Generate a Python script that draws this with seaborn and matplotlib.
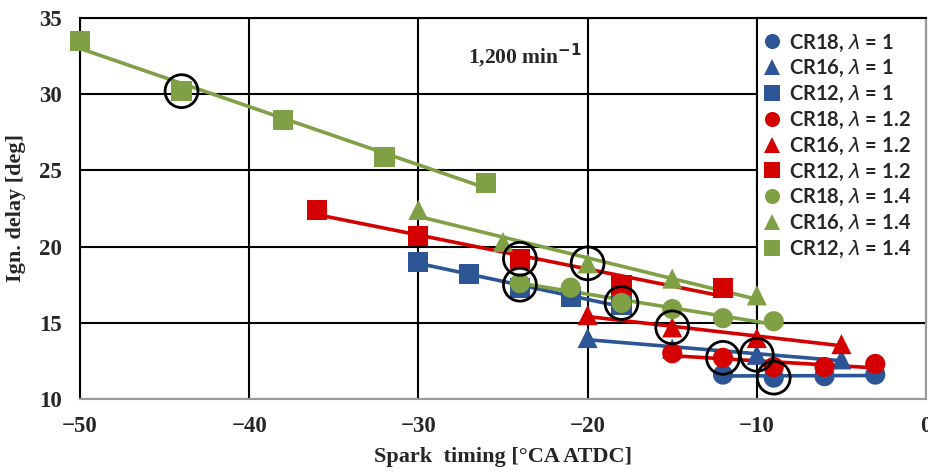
import numpy as np
import pandas as pd
import seaborn as sns
import matplotlib.pyplot as plt
from matplotlib.patches import Rectangle

# spark timing [deg CA ATDC] / ignition delay [deg], per series
# lambda = 1
cr18_l10_x = [-12, -9, -6, -3]
cr18_l10_y = [11.6, 11.4, 11.5, 11.6]
cr16_l10_x = [-20, -15, -10, -5]
cr16_l10_y = [14.0, 13.3, 12.9, 12.6]
cr12_l10_x = [-30, -27, -24, -21, -18]
cr12_l10_y = [19.0, 18.2, 17.3, 16.7, 16.2]
# lambda = 1.2
cr18_l12_x = [-15, -12, -9, -6, -3]
cr18_l12_y = [13.0, 12.7, 12.1, 12.1, 12.3]
cr16_l12_x = [-20, -15, -10, -5]
cr16_l12_y = [15.5, 14.7, 14.0, 13.6]
cr12_l12_x = [-36, -30, -24, -18, -12]
cr12_l12_y = [22.4, 20.7, 19.2, 17.5, 17.3]
# lambda = 1.4
cr18_l14_x = [-24, -21, -18, -15, -12, -9]
cr18_l14_y = [17.6, 17.3, 16.3, 15.9, 15.3, 15.1]
cr16_l14_x = [-30, -25, -20, -15, -10]
cr16_l14_y = [22.4, 20.3, 18.9, 17.9, 16.8]
cr12_l14_x = [-50, -44, -38, -32, -26]
cr12_l14_y = [33.5, 30.2, 28.3, 25.9, 24.2]

# points marked with a black ring
circled_x = [-44, -24, -24, -20, -18, -15, -12, -10, -9]
circled_y = [30.2, 19.2, 17.5, 18.9, 16.3, 14.7, 12.7, 12.9, 11.4]

series = [
    ("CR18, $\\lambda$ = 1", cr18_l10_x, cr18_l10_y, "#2c5596", "o"),
    ("CR16, $\\lambda$ = 1", cr16_l10_x, cr16_l10_y, "#2c5596", "^"),
    ("CR12, $\\lambda$ = 1", cr12_l10_x, cr12_l10_y, "#2c5596", "s"),
    ("CR18, $\\lambda$ = 1.2", cr18_l12_x, cr18_l12_y, "#d40000", "o"),
    ("CR16, $\\lambda$ = 1.2", cr16_l12_x, cr16_l12_y, "#d40000", "^"),
    ("CR12, $\\lambda$ = 1.2", cr12_l12_x, cr12_l12_y, "#d40000", "s"),
    ("CR18, $\\lambda$ = 1.4", cr18_l14_x, cr18_l14_y, "#80a046", "o"),
    ("CR16, $\\lambda$ = 1.4", cr16_l14_x, cr16_l14_y, "#80a046", "^"),
    ("CR12, $\\lambda$ = 1.4", cr12_l14_x, cr12_l14_y, "#80a046", "s"),
]

rows = []
for name, xs, ys, _, _ in series:
    for x, y in zip(xs, ys):
        rows.append({"series": name, "timing": x, "delay": y})
df = pd.DataFrame(rows)

names = [s[0] for s in series]
palette = {s[0]: s[3] for s in series}
markers = {s[0]: s[4] for s in series}

sns.set_style("white")
plt.rcParams["font.family"] = ["Liberation Serif", "DejaVu Serif"]
plt.rcParams["font.weight"] = "bold"
plt.rcParams["mathtext.fontset"] = "custom"
plt.rcParams["mathtext.it"] = "DejaVu Sans:italic:normal"

fig = plt.figure(figsize=(9.29, 4.72), dpi=100)
ax = fig.add_axes([0.0861, 0.1547, 0.9107, 0.8072])

# linear trendlines
for name, xs, ys, color, _ in series:
    sub = df[df["series"] == name]
    sns.regplot(data=sub, x="timing", y="delay", scatter=False, ci=None,
                truncate=True, color=color, ax=ax,
                line_kws={"lw": 2.6, "zorder": 2, "solid_capstyle": "butt"})

sns.scatterplot(data=df, x="timing", y="delay", hue="series", style="series",
                hue_order=names, style_order=names, palette=palette,
                markers=markers, s=210, linewidth=0, zorder=3, ax=ax,
                legend="full", clip_on=False)

ax.scatter(circled_x, circled_y, s=560, facecolors="none",
           edgecolors="black", linewidths=2, zorder=4, clip_on=False)

# legend box covering the upper right corner
ax.add_patch(Rectangle((-10, 15), 10, 20, facecolor="white",
                       edgecolor="black", lw=1.5, zorder=1.5, clip_on=False))

handles, labels = ax.get_legend_handles_labels()
leg = ax.legend(handles, labels, loc="upper left", bbox_to_anchor=(0.797, 0.983),
                borderaxespad=0, frameon=False, handletextpad=0.3,
                labelspacing=0.235, markerscale=0.75, handlelength=1.0,
                prop={"family": ["Lato", "DejaVu Sans"], "weight": "bold",
                      "size": 14.5})
leg.set_zorder(6)

ax.text(-23.7, 32.5, "1,200 min$^{\\mathbf{-1}}$", ha="center", va="center",
        fontsize=15.5, fontweight="bold", zorder=5)

ax.set_xlim(-50, 0)
ax.set_ylim(10, 35)
ax.set_xticks(np.arange(-50, 1, 10))
ax.set_yticks(np.arange(10, 36, 5))
ax.grid(True, color="black", lw=1.5)
ax.set_axisbelow(True)
ax.tick_params(axis="y", length=0, labelsize=16.5, pad=13)
ax.tick_params(axis="x", length=0, labelsize=16.5, pad=12)
for lab in ax.get_xticklabels() + ax.get_yticklabels():
    lab.set_fontweight("bold")
for side in ["bottom", "right"]:
    ax.spines[side].set_color("#9a9a9a")
    ax.spines[side].set_linewidth(1.5)
for side in ["left", "top"]:
    ax.spines[side].set_color("black")
    ax.spines[side].set_linewidth(1.5)

ax.set_xlabel("Spark  timing [°CA ATDC]", fontsize=16, fontweight="bold")
ax.set_ylabel("Ign. delay [deg]", fontsize=16, fontweight="bold")
ax.xaxis.set_label_coords(0.5, -0.125)
ax.yaxis.set_label_coords(-0.064, 0.5)

fig.savefig("out.png", dpi=100)
